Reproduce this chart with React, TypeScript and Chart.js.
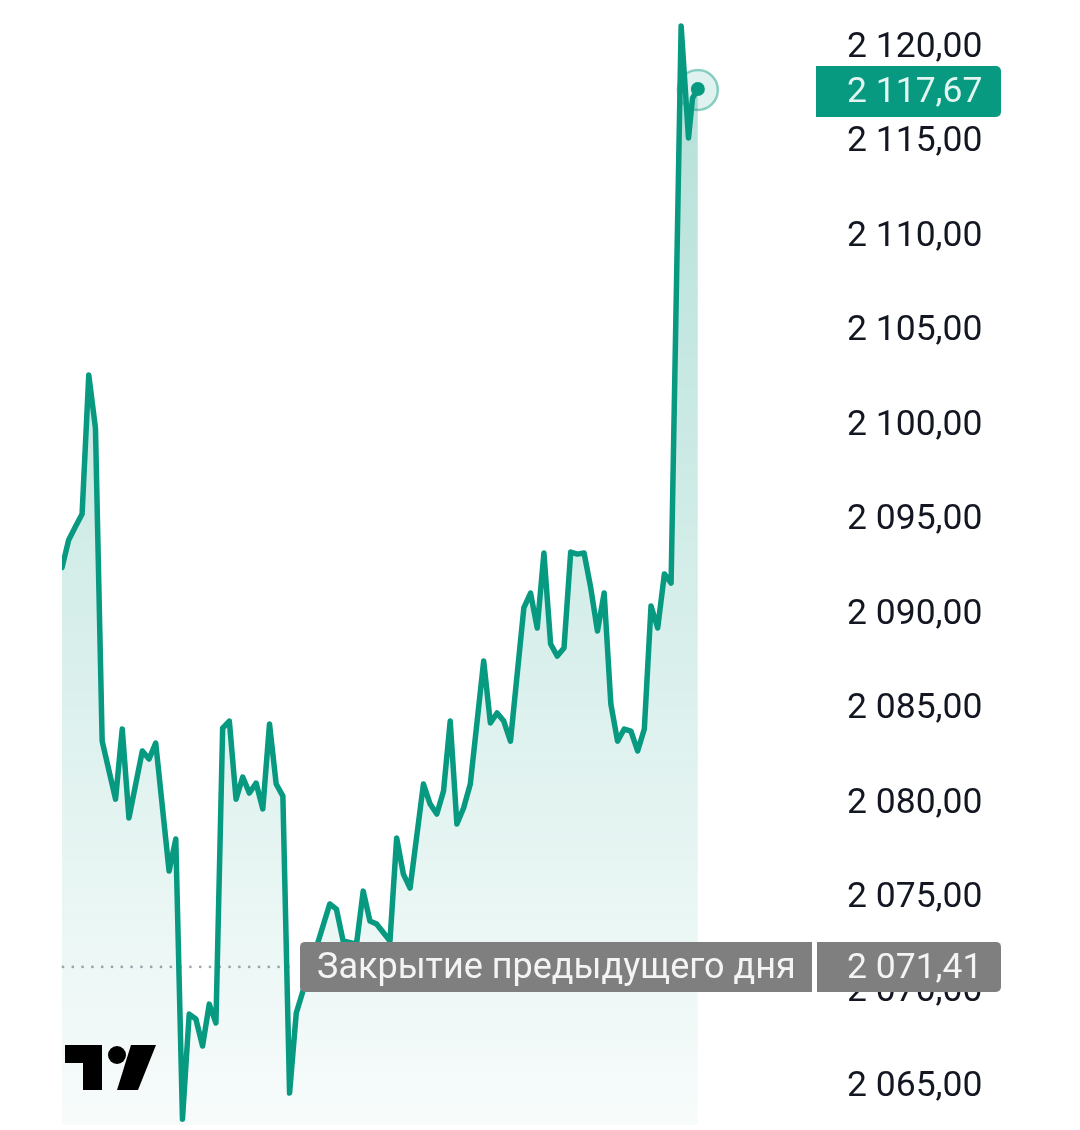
import React, { useEffect, useRef } from 'react';
import { Chart, registerables } from 'chart.js';

Chart.register(...registerables);

// bar index (5-min candles) and close price at that bar
const barIndex = [
  0, 1, 2, 3, 4, 5, 6, 8, 9, 10, 12, 13, 14, 16, 17, 18, 19, 20, 21, 22, 23, 24, 25, 26, 27, 28, 29, 30,
  31, 32, 33, 34, 35, 36, 40, 41, 42, 44, 45, 46, 47, 49, 50, 51, 52, 54, 55, 56, 57, 58, 59, 60, 61,
  63, 64, 65, 66, 67, 69, 70, 71, 72, 73, 74, 75, 76, 77, 78, 79, 80, 81, 82, 83, 84, 85, 86, 87, 88,
  89, 90, 91, 92.5, 93.6, 94.2, 95,
];
const prices = [
  2092.33, 2093.8, 2094.5, 2095.17, 2102.53, 2099.72, 2083.15, 2080.08, 2083.79, 2079.08, 2082.63,
  2082.2, 2083.05, 2076.27, 2077.97, 2063.14, 2068.7, 2068.44, 2067.01, 2069.23, 2068.23, 2083.84,
  2084.21, 2080.08, 2081.25, 2080.4, 2080.93, 2079.56, 2084.06, 2080.88, 2080.24, 2064.52, 2068.76,
  2069.92, 2074.53, 2074.26, 2072.57, 2072.4, 2075.21, 2073.63, 2073.47, 2072.57, 2078.02, 2076.11,
  2075.37, 2080.88, 2079.82, 2079.29, 2080.51, 2084.21, 2078.76, 2079.61, 2080.88, 2087.39, 2084.11,
  2084.64, 2084.21, 2083.15, 2090.2, 2090.99, 2089.14, 2093.11, 2088.29, 2087.65, 2088.08, 2093.16,
  2093.05, 2093.11, 2091.25, 2088.98, 2090.99, 2085.11, 2083.15, 2083.79, 2083.68, 2082.63, 2083.79,
  2090.3, 2089.14, 2092.0, 2091.52, 2121.01, 2115.08, 2117.19, 2117.67,
];
const yTickValues = [2065, 2070, 2075, 2080, 2085, 2090, 2095, 2100, 2105, 2110, 2115, 2120];
const prevClose = 2071.41;
const prevCloseLabel = 'Закрытие предыдущего дня';
const lastPrice = prices[prices.length - 1];

const GREEN = '#089981';
const FONT = 'Roboto';

function fmt(v: number): string {
  const [i, d] = v.toFixed(2).split('.');
  const int = i.replace(/\B(?=(\d{3})+(?!\d))/g, ' ');
  return int + ',' + d;
}

const overlay = {
  id: 'overlay',
  beforeDatasetsDraw(chart: any) {
    const { ctx, chartArea, scales } = chart;
    const py = scales.y.getPixelForValue(prevClose) + 4;
    ctx.save();
    ctx.fillStyle = '#a3a6ae';
    for (let x = chartArea.left + 1; x < 297; x += 9.8) {
      ctx.beginPath();
      ctx.arc(x, py, 1.4, 0, Math.PI * 2);
      ctx.fill();
    }
    ctx.restore();
  },
  afterDraw(chart: any) {
    const { ctx, scales } = chart;
    const y = scales.y;
    ctx.save();
    // last point marker
    const meta = chart.getDatasetMeta(0);
    const lastPt = meta.data[meta.data.length - 1];
    ctx.beginPath();
    ctx.arc(lastPt.x, lastPt.y + 1, 20, 0, Math.PI * 2);
    ctx.fillStyle = 'rgba(8,153,129,0.13)';
    ctx.fill();
    ctx.lineWidth = 2.5;
    ctx.strokeStyle = 'rgba(8,153,129,0.45)';
    ctx.stroke();
    ctx.beginPath();
    ctx.arc(lastPt.x, lastPt.y, 7, 0, Math.PI * 2);
    ctx.fillStyle = GREEN;
    ctx.fill();

    // previous close labels
    const pc = y.getPixelForValue(prevClose) + 4;
    ctx.fillStyle = '#7f7f7f';
    ctx.beginPath();
    ctx.roundRect(300, pc - 25, 512, 50, [5, 0, 0, 5]);
    ctx.fill();
    ctx.beginPath();
    ctx.roundRect(817, pc - 25, 184, 50, [0, 5, 5, 0]);
    ctx.fill();
    ctx.fillStyle = '#f4f4f4';
    ctx.font = `36px ${FONT}`;
    ctx.textBaseline = 'middle';
    ctx.textAlign = 'left';
    ctx.fillText(prevCloseLabel, 317, pc + 2);
    ctx.font = `35.5px ${FONT}`;
    ctx.fillText(fmt(prevClose), 847, pc + 2);

    // last price label
    const lp = y.getPixelForValue(lastPrice) + 2;
    ctx.fillStyle = GREEN;
    ctx.beginPath();
    ctx.roundRect(816, lp - 25, 185, 51, [0, 5, 5, 0]);
    ctx.fill();
    ctx.fillStyle = '#e2f5f0';
    ctx.fillText(fmt(lastPrice), 847, lp + 2);

    // logo
    ctx.fillStyle = '#000';
    ctx.fillRect(65, 1045, 37, 18);
    ctx.fillRect(83, 1045, 19, 45);
    ctx.beginPath();
    ctx.arc(117, 1055, 9, 0, Math.PI * 2);
    ctx.fill();
    ctx.beginPath();
    ctx.moveTo(131, 1045);
    ctx.lineTo(156, 1045);
    ctx.lineTo(138, 1090);
    ctx.lineTo(117, 1090);
    ctx.closePath();
    ctx.fill();
    ctx.restore();
  },
};

export default function App() {
  const ref = useRef<HTMLCanvasElement | null>(null);
  useEffect(() => {
    if (!ref.current) return;
    const chart = new Chart(ref.current, {
      type: 'line',
      data: {
        datasets: [
          {
            data: barIndex.map((x, i) => ({ x, y: prices[i] })),
            borderColor: GREEN,
            borderWidth: 5.5,
            borderJoinStyle: 'round',
            borderCapStyle: 'round',
            pointRadius: 0,
            tension: 0,
            fill: 'start',
            backgroundColor: (c: any) => {
              const a = c.chart.chartArea;
              if (!a) return 'rgba(8,153,129,0.15)';
              const g = c.chart.ctx.createLinearGradient(0, a.top, 0, a.bottom);
              g.addColorStop(0, 'rgba(8,153,129,0.32)');
              g.addColorStop(1, 'rgba(8,153,129,0.03)');
              return g;
            },
          },
        ],
      },
      options: {
        animation: false,
        responsive: false,
        devicePixelRatio: 1,
        layout: { padding: { left: 62, top: 0, right: 0, bottom: 5 } },
        plugins: { legend: { display: false }, tooltip: { enabled: false } },
        scales: {
          x: { type: 'linear', min: 0, max: 112.5, display: false },
          y: {
            position: 'right',
            min: 2062.83,
            max: 2122.38,
            grid: { display: false, drawTicks: false },
            border: { display: false },
            afterBuildTicks: (s: any) => {
              s.ticks = yTickValues.map((v) => ({ value: v }));
            },
            afterFit: (s: any) => {
              s.width = 265;
              s.paddingTop = 0;
              s.paddingBottom = 0;
            },
            ticks: {
              crossAlign: 'near',
              padding: 32,
              labelOffset: 3,
              color: '#131722',
              font: { family: FONT, size: 35.5 },
              callback: (v: any) => fmt(Number(v)),
            },
          },
        },
      },
      plugins: [overlay],
    } as any);
    return () => chart.destroy();
  }, []);
  return (
    <div style={{ position: 'fixed', left: 0, top: 0, width: 1080, height: 1130, background: '#fff' }}>
      <canvas ref={ref} width={1080} height={1130} />
    </div>
  );
}
